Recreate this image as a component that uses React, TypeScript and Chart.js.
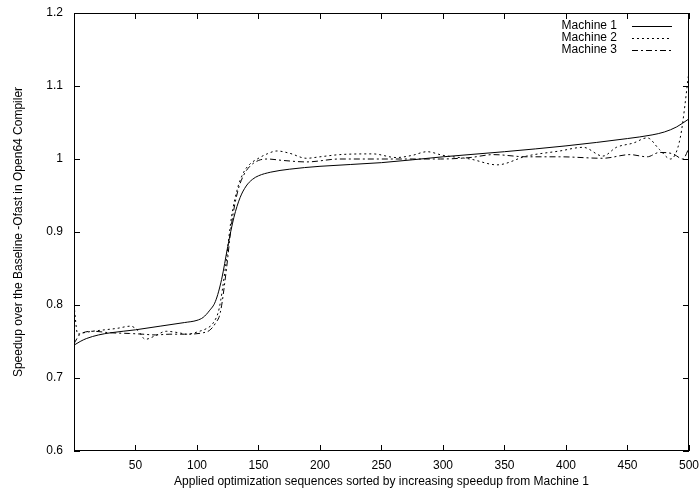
import React, { useEffect, useRef } from 'react';
import { Chart, registerables } from 'chart.js';
Chart.register(...registerables);

const seriesNames = ['Machine 1', 'Machine 2', 'Machine 3'];

const m1X = [0, 5, 10, 20, 30, 50, 70, 90, 100, 105, 110, 115, 120, 125, 130, 135, 140, 145, 150, 160, 175, 200, 250, 300, 350, 400, 450, 470, 480, 490, 500];
const m1Y = [0.745, 0.750, 0.754, 0.759, 0.762, 0.766, 0.771, 0.776, 0.779, 0.783, 0.792, 0.805, 0.835, 0.880, 0.920, 0.947, 0.963, 0.972, 0.977, 0.982, 0.986, 0.990, 0.995, 1.003, 1.010, 1.018, 1.028, 1.033, 1.037, 1.044, 1.055];

const m2X = [0, 3, 8, 15, 25, 35, 46, 52, 58, 65, 75, 85, 92, 102, 108, 113, 118, 123, 128, 133, 138, 143, 149, 157, 165, 175, 189, 200, 216, 243, 262, 275, 287, 300, 322, 344, 368, 395, 414, 430, 441, 455, 466, 476, 485, 493, 500];
const m2Y = [0.800, 0.760, 0.762, 0.764, 0.766, 0.768, 0.771, 0.765, 0.753, 0.757, 0.764, 0.762, 0.760, 0.764, 0.768, 0.775, 0.795, 0.850, 0.920, 0.960, 0.982, 0.993, 1.000, 1.007, 1.011, 1.008, 1.001, 1.003, 1.006, 1.007, 1.002, 1.005, 1.010, 1.005, 1.000, 0.992, 1.004, 1.011, 1.016, 1.004, 1.016, 1.022, 1.029, 1.013, 1.000, 1.030, 1.120];

const m3X = [0, 5, 16, 29, 45, 56, 66, 78, 90, 105, 110, 115, 119, 124, 128, 133, 138, 143, 150, 157, 170, 189, 216, 257, 298, 322, 341, 368, 395, 430, 452, 466, 476, 487, 495, 500];
const m3Y = [0.747, 0.760, 0.764, 0.762, 0.761, 0.760, 0.759, 0.760, 0.760, 0.762, 0.765, 0.775, 0.790, 0.850, 0.910, 0.955, 0.978, 0.990, 0.998, 1.000, 0.998, 0.996, 1.000, 1.000, 1.000, 1.002, 1.006, 1.003, 1.003, 1.001, 1.006, 1.003, 1.009, 1.007, 1.000, 1.015];

const xLabel = 'Applied optimization sequences sorted by increasing speedup from Machine 1';
const yLabel = 'Speedup over the Baseline -Ofast in Open64 Compiler';

const FONT = "'Liberation Sans', Arial, Helvetica, sans-serif";

const pts = (xs: number[], ys: number[]) => xs.map((x, i) => ({ x, y: ys[i] }));

const framePlugin = {
  id: 'gnuFrame',
  afterDatasetsDraw(chart: any) {
    const { ctx, chartArea, scales } = chart;
    const { left, right, top, bottom } = chartArea;
    const xs = scales.x;
    const ys = scales.y;
    const tl = 6;
    ctx.save();
    ctx.strokeStyle = '#000';
    ctx.lineWidth = 1;
    ctx.setLineDash([]);
    ctx.beginPath();
    xs.ticks.forEach((t: any) => {
      const px = Math.round(xs.getPixelForValue(t.value)) + 0.5;
      ctx.moveTo(px, bottom);
      ctx.lineTo(px, bottom - tl);
      ctx.moveTo(px, top);
      ctx.lineTo(px, top + tl);
    });
    ys.ticks.forEach((t: any) => {
      const py = Math.round(ys.getPixelForValue(t.value)) + 0.5;
      ctx.moveTo(left, py);
      ctx.lineTo(left + tl, py);
      ctx.moveTo(right, py);
      ctx.lineTo(right - tl, py);
    });
    ctx.stroke();
    ctx.strokeRect(Math.round(left) + 0.5, Math.round(top) + 0.5, Math.round(right - left) - 1, Math.round(bottom - top) - 1);
    ctx.restore();
  },
  afterDraw(chart: any) {
    const { ctx, chartArea } = chart;
    const textRight = chartArea.right - 72;
    const lineStart = chartArea.right - 57;
    const lineEnd = chartArea.right - 17;
    ctx.save();
    ctx.font = `12px ${FONT}`;
    ctx.fillStyle = '#000';
    ctx.textAlign = 'right';
    ctx.textBaseline = 'middle';
    chart.data.datasets.forEach((ds: any, i: number) => {
      const y = chartArea.top + 13 + i * 12;
      ctx.fillText(ds.label, textRight, y);
      ctx.beginPath();
      ctx.strokeStyle = '#000';
      ctx.lineWidth = 1;
      ctx.setLineDash(ds.borderDash || []);
      ctx.moveTo(lineStart, Math.round(y) + 0.5);
      ctx.lineTo(lineEnd, Math.round(y) + 0.5);
      ctx.stroke();
    });
    ctx.restore();
  },
};

export default function App() {
  const ref = useRef<HTMLCanvasElement | null>(null);
  useEffect(() => {
    document.body.style.margin = '0';
    if (!ref.current) return;
    Chart.defaults.font.family = FONT;
    Chart.defaults.font.size = 12;
    Chart.defaults.color = '#000';
    const chart = new Chart(ref.current, {
      type: 'line',
      data: {
        datasets: [
          { label: seriesNames[0], data: pts(m1X, m1Y), borderColor: '#000', borderWidth: 1, pointRadius: 0, borderDash: [], cubicInterpolationMode: 'monotone' },
          { label: seriesNames[1], data: pts(m2X, m2Y), borderColor: '#000', borderWidth: 1, pointRadius: 0, borderDash: [2, 3], cubicInterpolationMode: 'monotone' },
          { label: seriesNames[2], data: pts(m3X, m3Y), borderColor: '#000', borderWidth: 1, pointRadius: 0, borderDash: [6, 3, 2, 3], cubicInterpolationMode: 'monotone' },
        ],
      } as any,
      options: {
        responsive: false,
        animation: false,
        devicePixelRatio: 1,
        layout: { padding: { top: 13, right: 11, left: 0, bottom: 0 } },
        plugins: { legend: { display: false }, tooltip: { enabled: false } },
        scales: {
          x: {
            type: 'linear',
            min: 0,
            max: 500,
            grid: { display: false, drawTicks: true, tickLength: 6 },
            border: { display: false },
            ticks: { stepSize: 50, padding: 1, maxRotation: 0, autoSkip: false, font: { size: 12, family: FONT }, color: '#000' },
            afterBuildTicks: (s: any) => { s.ticks = s.ticks.filter((t: any) => t.value !== 0); },
            afterFit: (s: any) => { s.height = 42; },
            title: { display: true, text: xLabel, padding: { top: 0, bottom: 4 }, font: { size: 12, family: FONT }, color: '#000' },
          },
          y: {
            type: 'linear',
            min: 0.6,
            max: 1.2,
            grid: { display: false, drawTicks: true, tickLength: 10 },
            border: { display: false },
            ticks: { stepSize: 0.1, padding: 1, autoSkip: false, font: { size: 12, family: FONT }, color: '#000', callback: (v: any) => String(Number(Number(v).toFixed(1))) },
            afterFit: (s: any) => { s.width = 74; },
            title: { display: true, text: yLabel, padding: { top: 11, bottom: 0 }, font: { size: 12, family: FONT }, color: '#000' },
          },
        },
      } as any,
      plugins: [framePlugin],
    });
    return () => chart.destroy();
  }, []);
  return <canvas ref={ref} width={700} height={493} style={{ display: 'block', width: 700, height: 493 }} />;
}
